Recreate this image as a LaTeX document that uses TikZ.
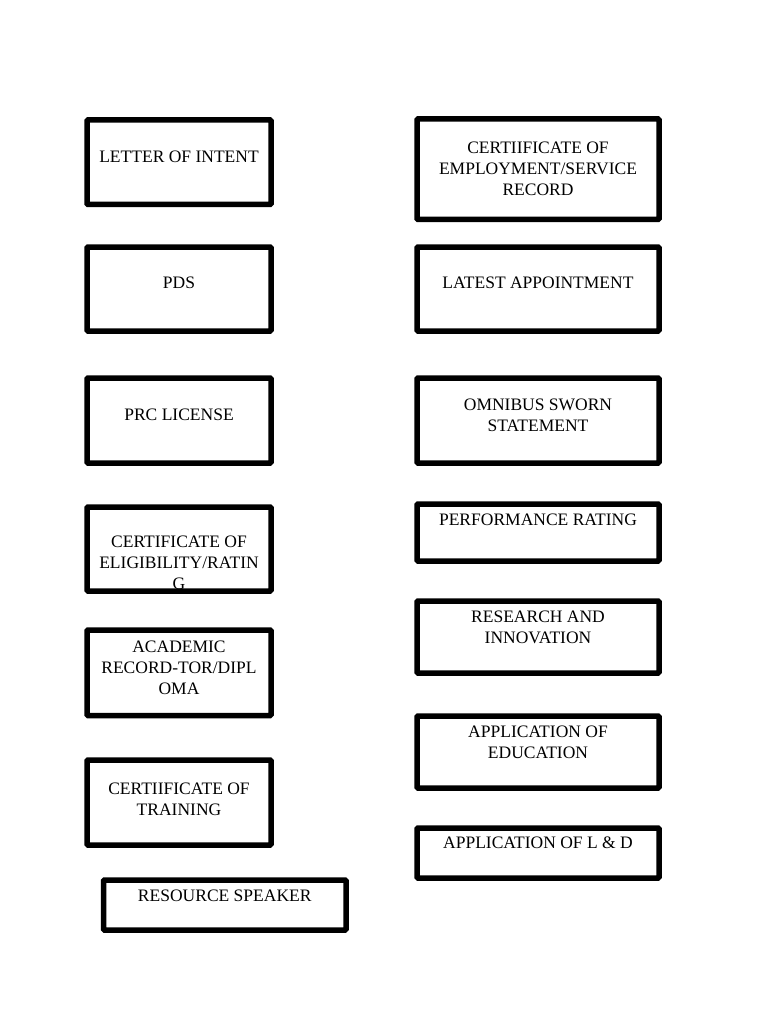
\documentclass[tikz,border=0pt]{standalone}
\usepackage{fontspec}
\setmainfont{Liberation Serif}

\begin{document}
\begin{tikzpicture}[x=1pt,y=-1pt,
        box/.style={draw,line width=5.5pt,rounded corners=1pt,inner sep=0pt,outer sep=0pt},
        lbl/.style={align=center,inner sep=0pt,font=\fontsize{17.5}{20.8}\selectfont}]
        \fill[white] (0,0) rectangle (768,1024);
        \useasboundingbox (0,0) rectangle (768,1024);
        % left column
        \node[box,minimum width=184,minimum height=84.5] (intent) at (179,162.25) {};
        \node[lbl] (intent-t) at (179,156.5) {LETTER OF INTENT};
        \node[box,minimum width=184,minimum height=84] (pds) at (179,289) {};
        \node[lbl] (pds-t) at (179,283) {PDS};
        \node[box,minimum width=184,minimum height=85] (prc) at (179,420.5) {};
        \node[lbl] (prc-t) at (179,415) {PRC LICENSE};
        \node[box,minimum width=184,minimum height=84] (elig) at (179,549) {};
        \begin{scope}
            \clip (elig.south west) rectangle (elig.north east);
            \node[lbl] (elig-t) at (179,563) {CERTIFICATE OF\\ELIGIBILITY/RATIN\\G};
        \end{scope}
        \node[box,minimum width=184,minimum height=85.5] (acad) at (179,672.75) {};
        \node[lbl] (acad-t) at (179,668) {ACADEMIC\\RECORD-TOR/DIPL\\OMA};
        \node[box,minimum width=184,minimum height=85] (train) at (179,802.5) {};
        \node[lbl] (train-t) at (179,799) {CERTIIFICATE OF\\TRAINING};
        \node[box,minimum width=242.5,minimum height=50] (speaker) at (224.75,905) {};
        \node[lbl] (speaker-t) at (224.75,896) {RESOURCE SPEAKER};
        % right column
        \node[box,minimum width=242,minimum height=100.5] (employ) at (538,169.25) {};
        \node[lbl] (employ-t) at (538,169) {CERTIIFICATE OF\\EMPLOYMENT/SERVICE\\RECORD};
        \node[box,minimum width=242,minimum height=84] (appoint) at (538,289) {};
        \node[lbl] (appoint-t) at (538,283) {LATEST APPOINTMENT};
        \node[box,minimum width=242,minimum height=85] (omnibus) at (538,420.5) {};
        \node[lbl] (omnibus-t) at (538,415) {OMNIBUS SWORN\\STATEMENT};
        \node[box,minimum width=242,minimum height=57] (perf) at (538,532.5) {};
        \node[lbl] (perf-t) at (538,520) {PERFORMANCE RATING};
        \node[box,minimum width=242,minimum height=72] (research) at (538,637) {};
        \node[lbl] (research-t) at (538,627.5) {RESEARCH AND\\INNOVATION};
        \node[box,minimum width=242,minimum height=72] (educ) at (538,752) {};
        \node[lbl] (educ-t) at (538,742.5) {APPLICATION OF\\EDUCATION};
        \node[box,minimum width=242,minimum height=50] (lnd) at (538,853) {};
        \node[lbl] (lnd-t) at (538,843) {APPLICATION OF L \& D};
    \end{tikzpicture}
\end{document}
